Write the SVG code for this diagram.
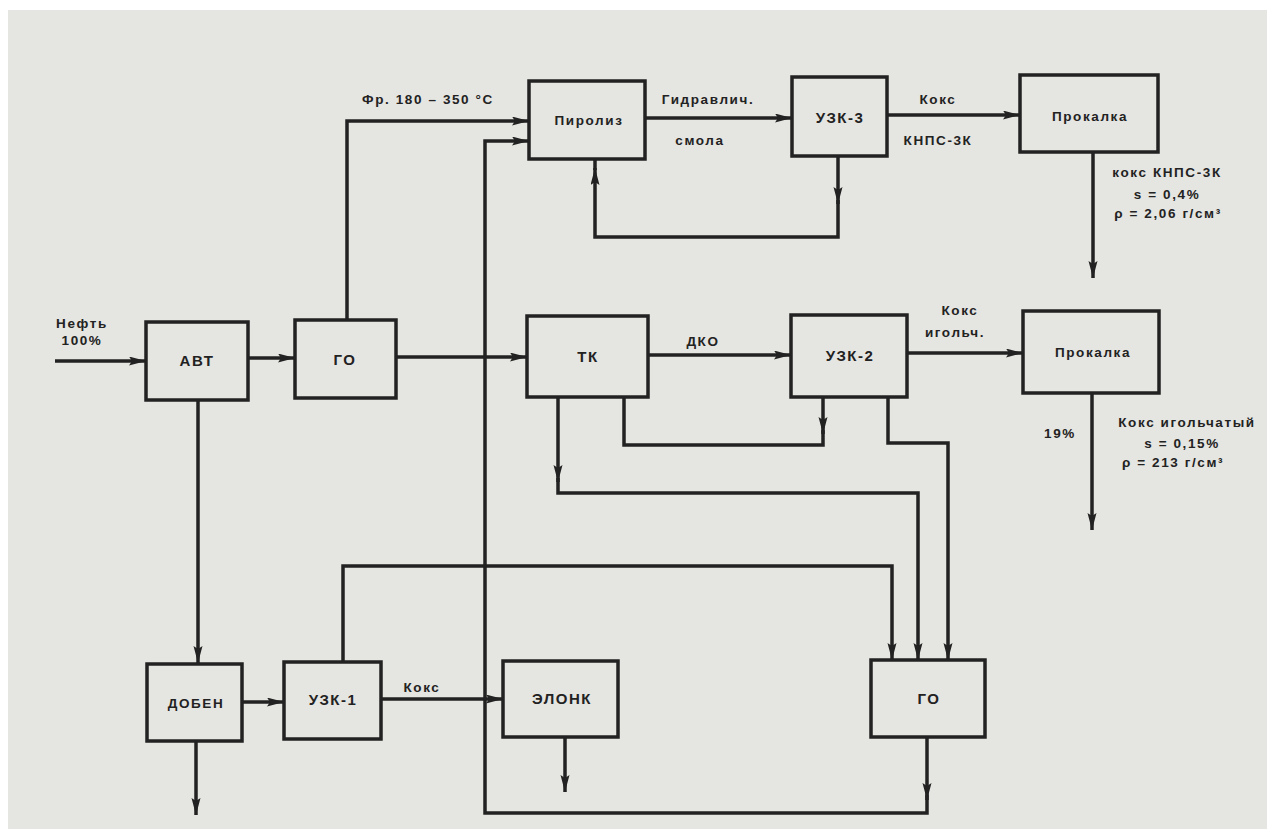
<svg xmlns="http://www.w3.org/2000/svg" width="1267" height="829" viewBox="0 0 1267 829">
<style>
.bg{fill:#e5e5e1}
.box{fill:none;stroke:#222;stroke-width:3.5}
.ln{fill:none;stroke:#222;stroke-width:3.5;stroke-linejoin:miter}
.t{font-family:"Liberation Sans","DejaVu Sans",sans-serif;font-weight:bold;font-size:15px;fill:#222;letter-spacing:1.5px;text-anchor:middle}
.s{font-size:13.5px;letter-spacing:1.6px}
</style>
<defs>
<marker id="ah" markerUnits="userSpaceOnUse" markerWidth="20" markerHeight="10" refX="17" refY="4.5" orient="auto">
<path d="M0,0 L17,4.5 L0,9 L3,4.5 z" fill="#222"/>
</marker>
</defs>
<rect x="0" y="0" width="1267" height="829" fill="#ffffff"/>
<rect class="bg" x="8" y="10" width="1259" height="819"/>

<g id="connectors">
<path class="ln" d="M55,361 H146" marker-end="url(#ah)"/>
<path class="ln" d="M248,358 H295" marker-end="url(#ah)"/>
<path class="ln" d="M396,357 H527" marker-end="url(#ah)"/>
<path class="ln" d="M347,320 V121 H529" marker-end="url(#ah)"/>
<path class="ln" d="M927,737 V800" marker-end="url(#ah)"/>
<path class="ln" d="M927,795 V813 H485 V141 H529" marker-end="url(#ah)"/>
<path class="ln" d="M645,118 H792" marker-end="url(#ah)"/>
<path class="ln" d="M887,115 H1020" marker-end="url(#ah)"/>
<path class="ln" d="M1093,152 V278" marker-end="url(#ah)"/>
<path class="ln" d="M838,156 V204" marker-end="url(#ah)"/>
<path class="ln" d="M838,200 V237 H595 V168" marker-end="url(#ah)"/>
<path class="ln" d="M595,170 V158"/>
<path class="ln" d="M648,355 H791" marker-end="url(#ah)"/>
<path class="ln" d="M907,353 H1023" marker-end="url(#ah)"/>
<path class="ln" d="M1092,393 V530" marker-end="url(#ah)"/>
<path class="ln" d="M823,397 V434" marker-end="url(#ah)"/>
<path class="ln" d="M624,397 V445 H823 V430"/>
<path class="ln" d="M558,397 V482" marker-end="url(#ah)"/>
<path class="ln" d="M558,478 V493 H918 V660" marker-end="url(#ah)"/>
<path class="ln" d="M888,397 V443 H948 V660" marker-end="url(#ah)"/>
<path class="ln" d="M343,662 V566 H892 V660" marker-end="url(#ah)"/>
<path class="ln" d="M198,400 V663" marker-end="url(#ah)"/>
<path class="ln" d="M242,702 H284" marker-end="url(#ah)"/>
<path class="ln" d="M381,699 H503" marker-end="url(#ah)"/>
<path class="ln" d="M196,741 V815" marker-end="url(#ah)"/>
<path class="ln" d="M565,737 V792" marker-end="url(#ah)"/>
</g>

<g id="labels">
<text class="t s" x="428" y="104">Фр. 180 – 350 °С</text>
<text class="t s" x="708" y="104">Гидравлич.</text>
<text class="t s" x="700" y="145">смола</text>
<text class="t s" x="938" y="104">Кокс</text>
<text class="t s" x="938" y="145">КНПС-3К</text>
<text class="t s" x="1167" y="177">кокс КНПС-3К</text>
<text class="t s" x="1167" y="199">s = 0,4%</text>
<text class="t s" x="1168" y="218">ρ = 2,06 г/см³</text>
<text class="t s" x="82" y="328">Нефть</text>
<text class="t s" x="82" y="345">100%</text>
<text class="t s" x="703" y="346">ДКО</text>
<text class="t s" x="960" y="315">Кокс</text>
<text class="t s" x="955" y="337">игольч.</text>
<text class="t s" x="1060" y="438">19%</text>
<text class="t s" x="1187" y="427">Кокс игольчатый</text>
<text class="t s" x="1182" y="448">s = 0,15%</text>
<text class="t s" x="1173" y="467">ρ = 213 г/см³</text>
<text class="t s" x="422" y="692">Кокс</text>
</g>

<g id="node-avt"><rect class="box" x="146" y="322" width="102" height="78"/><text class="t" x="197" y="366">АВТ</text></g>
<g id="node-go1"><rect class="box" x="295" y="320" width="101" height="78"/><text class="t" x="345" y="365">ГО</text></g>
<g id="node-piroliz"><rect class="box" x="529" y="81" width="116" height="78"/><text class="t s" x="589" y="125">Пиролиз</text></g>
<g id="node-uzk3"><rect class="box" x="792" y="77" width="95" height="79"/><text class="t" x="840" y="123">УЗК-3</text></g>
<g id="node-prokalka1"><rect class="box" x="1020" y="75" width="138" height="77"/><text class="t s" x="1090" y="121">Прокалка</text></g>
<g id="node-tk"><rect class="box" x="527" y="316" width="121" height="81"/><text class="t" x="588" y="362">ТК</text></g>
<g id="node-uzk2"><rect class="box" x="791" y="315" width="116" height="82"/><text class="t" x="850" y="361">УЗК-2</text></g>
<g id="node-prokalka2"><rect class="box" x="1023" y="311" width="136" height="82"/><text class="t s" x="1093" y="357">Прокалка</text></g>
<g id="node-doben"><rect class="box" x="147" y="664" width="95" height="77"/><text class="t s" x="196" y="708">ДОБЕН</text></g>
<g id="node-uzk1"><rect class="box" x="284" y="662" width="97" height="77"/><text class="t" x="333" y="705">УЗК-1</text></g>
<g id="node-elonk"><rect class="box" x="503" y="661" width="115" height="76"/><text class="t" x="562" y="704">ЭЛОНК</text></g>
<g id="node-go2"><rect class="box" x="871" y="660" width="114" height="77"/><text class="t" x="929" y="704">ГО</text></g>
</svg>
